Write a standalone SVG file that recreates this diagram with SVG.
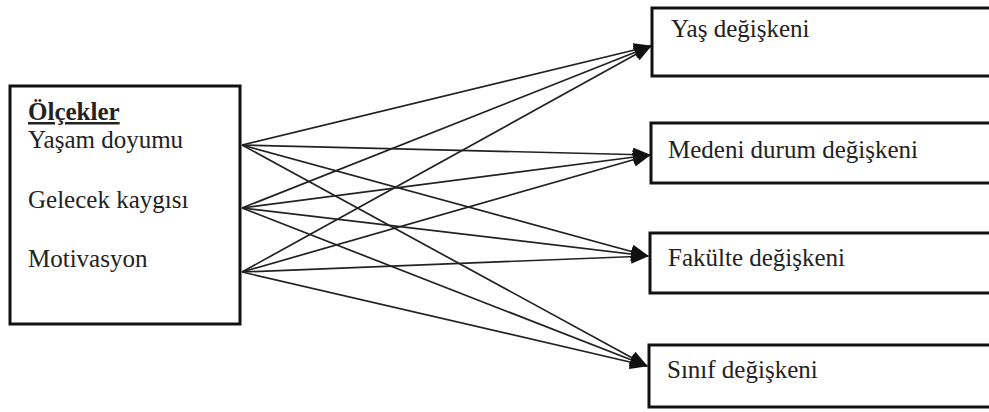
<svg xmlns="http://www.w3.org/2000/svg" width="989" height="412" viewBox="0 0 989 412">
<defs>
<style>
.box{fill:#fff;stroke:#111;stroke-width:3}
.t{font-family:"Liberation Serif","Times New Roman","DejaVu Serif",serif;font-size:25px;fill:#222}
.h{font-weight:bold;text-decoration:underline}
.c{stroke:#222;stroke-width:1.7;fill:none;marker-end:url(#ah)}
</style>
<marker id="ah" viewBox="0 0 18 14" refX="17" refY="7" markerWidth="18" markerHeight="14" markerUnits="userSpaceOnUse" orient="auto">
<path d="M0,0 L18,7 L0,14 z" fill="#111"/>
</marker>
</defs>
<rect width="989" height="412" fill="#fff"/>
<g id="connectors">
<line class="c" x1="242" y1="145" x2="651" y2="46"/>
<line class="c" x1="242" y1="145" x2="650" y2="155"/>
<line class="c" x1="242" y1="145" x2="648" y2="256"/>
<line class="c" x1="242" y1="145" x2="647" y2="366"/>
<line class="c" x1="242" y1="208" x2="651" y2="46"/>
<line class="c" x1="242" y1="208" x2="650" y2="155"/>
<line class="c" x1="242" y1="208" x2="648" y2="256"/>
<line class="c" x1="242" y1="208" x2="647" y2="366"/>
<line class="c" x1="242" y1="272" x2="651" y2="46"/>
<line class="c" x1="242" y1="272" x2="650" y2="155"/>
<line class="c" x1="242" y1="272" x2="648" y2="256"/>
<line class="c" x1="242" y1="272" x2="647" y2="366"/>
</g>
<g id="olcekler">
<rect class="box" x="10" y="86" width="230" height="238"/>
<text class="t h" x="28" y="120">Ölçekler</text>
<text class="t" x="28" y="148">Yaşam doyumu</text>
<text class="t" x="28" y="208">Gelecek kaygısı</text>
<text class="t" x="28" y="267">Motivasyon</text>
</g>
<g id="yas">
<rect class="box" x="652" y="8" width="360" height="68"/>
<text class="t" x="671" y="37">Yaş değişkeni</text>
</g>
<g id="medeni">
<rect class="box" x="651" y="123" width="360" height="60"/>
<text class="t" x="668" y="158">Medeni durum değişkeni</text>
</g>
<g id="fakulte">
<rect class="box" x="650" y="233" width="360" height="60"/>
<text class="t" x="668" y="266">Fakülte değişkeni</text>
</g>
<g id="sinif">
<rect class="box" x="649" y="345" width="360" height="62"/>
<text class="t" x="667" y="378">Sınıf değişkeni</text>
</g>
</svg>
